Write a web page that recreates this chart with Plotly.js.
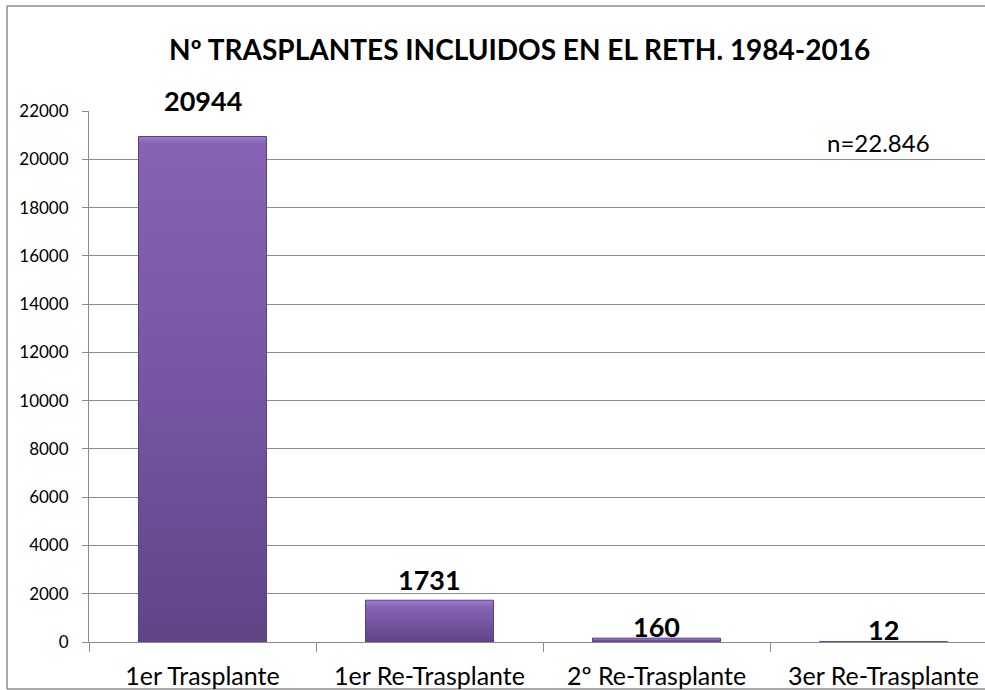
<!DOCTYPE html>
<html>
<head>
<meta charset="utf-8">
<script src="https://cdn.plot.ly/plotly-3.0.1.min.js"></script>
<style>
  html, body { margin: 0; padding: 0; background: #ffffff; overflow: hidden; }
  #chart { width: 985px; height: 690px; }
</style>
</head>
<body>
<div id="chart"></div>
<script>
// ---- data ----
var categories = ["1er Trasplante", "1er Re-Trasplante", "2º Re-Trasplante", "3er Re-Trasplante"];
var values = [20944, 1731, 160, 12];
var yTicks = [0, 2000, 4000, 6000, 8000, 10000, 12000, 14000, 16000, 18000, 20000, 22000];
var titleText = "Nº TRASPLANTES INCLUIDOS EN EL RETH. 1984-2016";
var noteText = "n=22.846";
// label offsets above the bar tops (px)
var labelShift = [36, 21, 12, 12];

var FONT = "Lato, 'Open Sans', 'Liberation Sans', sans-serif";
var BORDER = "#8c8c8c";

var trace = {
  type: "bar",
  x: categories,
  y: values,
  width: 0.564,
  marker: { color: "#7656a3", line: { color: "#5a3f82", width: 1 } },
  hoverinfo: "none"
};

var annotations = values.map(function (v, i) {
  return {
    x: categories[i], y: v, xref: "x", yref: "y",
    text: "<b>" + v + "</b>", showarrow: false,
    yanchor: "middle", yshift: labelShift[i],
    font: { family: FONT, size: 27, color: "#000000" }
  };
});
annotations.push({
  x: 0.881, y: 0.94, xref: "paper", yref: "paper",
  text: noteText, showarrow: false, xanchor: "center", yanchor: "middle",
  font: { family: FONT, size: 24, color: "#000000" }
});
// chart title (drawn as an annotation for exact placement)
annotations.push({
  x: 0.48, y: 1.1168, xref: "paper", yref: "paper",
  text: "<b>" + titleText + "</b>", showarrow: false, xanchor: "center", yanchor: "middle",
  font: { family: FONT, size: 28, color: "#000000" }
});

function borderLine(x0, y0, x1, y1) {
  return { type: "line", xref: "paper", yref: "paper", x0: x0, y0: y0, x1: x1, y1: y1,
           line: { color: BORDER, width: 1.5 }, layer: "below" };
}

var layout = {
  width: 985, height: 690,
  margin: { l: 89, r: 0, t: 111, b: 48, pad: 0 },
  paper_bgcolor: "#ffffff", plot_bgcolor: "#ffffff",
  showlegend: false,
  xaxis: {
    type: "category",
    range: [-0.5, 3.447],
    tickson: "boundaries",
    ticks: "outside", ticklen: 9, tickcolor: BORDER, tickwidth: 1,
    showline: true, linecolor: BORDER, linewidth: 1,
    showgrid: false,
    tickfont: { family: FONT, size: 25, color: "#000000" },
    ticklabelstandoff: 12,
    automargin: false,
    fixedrange: true
  },
  yaxis: {
    range: [0, 22000],
    tickvals: yTicks,
    ticktext: yTicks.map(String),
    ticks: "outside", ticklen: 6, tickcolor: BORDER, tickwidth: 1,
    showline: true, linecolor: BORDER, linewidth: 1,
    showgrid: true, gridcolor: BORDER, gridwidth: 1,
    zeroline: false,
    tickfont: { family: FONT, size: 17, color: "#000000" },
    ticklabelstandoff: 10,
    automargin: false,
    fixedrange: true
  },
  annotations: annotations,
  shapes: [
    borderLine(-0.0915, 1.1977, 1.0, 1.1977),
    borderLine(-0.0915, -0.0885, -0.0915, 1.1977),
    borderLine(-0.0915, -0.0885, 1.0, -0.0885)
  ]
};

Plotly.newPlot("chart", [trace], layout, { staticPlot: true, displayModeBar: false }).then(function (gd) {
  // per-bar vertical gradient with a light top bevel, like the reference's shaded bars
  var svg = gd.querySelector("svg.main-svg");
  var ns = "http://www.w3.org/2000/svg";
  var defs = svg.querySelector("defs") || svg.insertBefore(document.createElementNS(ns, "defs"), svg.firstChild);
  gd.querySelectorAll(".bars .point path").forEach(function (p, i) {
    var bb = p.getBBox();
    if (bb.height < 1) return;
    var band = Math.min(0.45, 7 / bb.height);
    var grad = document.createElementNS(ns, "linearGradient");
    grad.setAttribute("id", "barGrad" + i);
    grad.setAttribute("x1", "0"); grad.setAttribute("y1", "0");
    grad.setAttribute("x2", "0"); grad.setAttribute("y2", "1");
    [[0, "#9d7fd0"], [band, "#8663b4"], [Math.max(band, 0.5), "#7656a3"], [1, "#5f4586"]].forEach(function (s) {
      var st = document.createElementNS(ns, "stop");
      st.setAttribute("offset", String(s[0])); st.setAttribute("stop-color", s[1]);
      grad.appendChild(st);
    });
    defs.appendChild(grad);
    p.style.fill = "url(#barGrad" + i + ")";
  });
});
</script>
</body>
</html>
